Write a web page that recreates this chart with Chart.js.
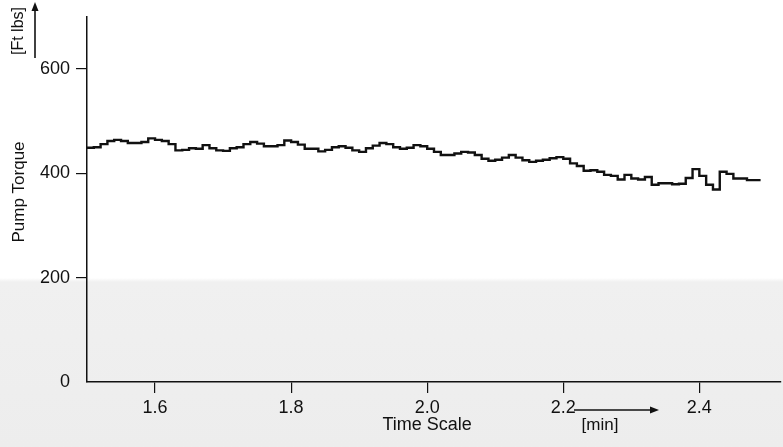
<!DOCTYPE html>
<html>
<head>
<meta charset="utf-8">
<script src="https://cdn.jsdelivr.net/npm/chart.js@4.4.1/dist/chart.umd.min.js"></script>
<style>
    html, body { margin: 0; padding: 0; }
    body {
        width: 783px; height: 447px; overflow: hidden;
        background: linear-gradient(to bottom, #ffffff 0px, #ffffff 278px, #f0f0f0 282px, #ededed 447px);
    }
    #wrap { position: relative; width: 783px; height: 447px; }
</style>
</head>
<body>
<div id="wrap"><canvas id="torqueChart" width="783" height="447"></canvas></div>
<script>
// time in minutes, one step every 0.01 min
const times = [
    1.50, 1.51, 1.52, 1.53, 1.54, 1.55, 1.56, 1.57, 1.58, 1.59,
    1.60, 1.61, 1.62, 1.63, 1.64, 1.65, 1.66, 1.67, 1.68, 1.69,
    1.70, 1.71, 1.72, 1.73, 1.74, 1.75, 1.76, 1.77, 1.78, 1.79,
    1.80, 1.81, 1.82, 1.83, 1.84, 1.85, 1.86, 1.87, 1.88, 1.89,
    1.90, 1.91, 1.92, 1.93, 1.94, 1.95, 1.96, 1.97, 1.98, 1.99,
    2.00, 2.01, 2.02, 2.03, 2.04, 2.05, 2.06, 2.07, 2.08, 2.09,
    2.10, 2.11, 2.12, 2.13, 2.14, 2.15, 2.16, 2.17, 2.18, 2.19,
    2.20, 2.21, 2.22, 2.23, 2.24, 2.25, 2.26, 2.27, 2.28, 2.29,
    2.30, 2.31, 2.32, 2.33, 2.34, 2.35, 2.36, 2.37, 2.38, 2.39,
    2.40, 2.41, 2.42, 2.43, 2.44, 2.45, 2.46, 2.47, 2.48, 2.49
];

// pump torque in ft lbs
const torque = [
    449, 449, 450, 456, 462, 464, 462, 458, 458, 460,
    467, 464, 462, 456, 444, 445, 448, 447, 454, 448,
    444, 443, 448, 450, 456, 460, 457, 452, 452, 454,
    463, 460, 455, 447, 447, 442, 445, 450, 452, 449,
    444, 441, 448, 453, 458, 456, 450, 447, 449, 454,
    452, 447, 441, 435, 435, 438, 441, 440, 435, 428,
    424, 426, 430, 435, 430, 425, 422, 424, 426, 429,
    431, 428, 419, 414, 405, 406, 403, 397, 395, 388,
    397, 390, 388, 393, 378, 381, 381, 379, 380, 391,
    408, 395, 378, 369, 403, 399, 390, 390, 387, 387
];

const xTicks = [1.6, 1.8, 2.0, 2.2, 2.4];
const yTicks = [0, 200, 400, 600];

const ink = '#111111';
const fontName = '"Liberation Sans", Arial, sans-serif';
const tickFont = { family: fontName, size: 18 };

const arrow = (ctx, x1, y1, x2, y2) => {
    const a = Math.atan2(y2 - y1, x2 - x1);
    ctx.beginPath();
    ctx.moveTo(x1, y1);
    ctx.lineTo(x2 - 6 * Math.cos(a), y2 - 6 * Math.sin(a));
    ctx.stroke();
    ctx.beginPath();
    ctx.moveTo(x2, y2);
    ctx.lineTo(x2 - 9 * Math.cos(a) + 3.5 * Math.sin(a), y2 - 9 * Math.sin(a) - 3.5 * Math.cos(a));
    ctx.lineTo(x2 - 9 * Math.cos(a) - 3.5 * Math.sin(a), y2 - 9 * Math.sin(a) + 3.5 * Math.cos(a));
    ctx.closePath();
    ctx.fill();
};

// axis titles and unit arrows
const axisText = {
    id: 'axisText',
    afterDraw(chart) {
        const ctx = chart.ctx;
        const xs = chart.scales.x;
        ctx.save();
        ctx.fillStyle = ink;
        ctx.strokeStyle = ink;
        ctx.lineWidth = 1.6;
        ctx.textAlign = 'center';
        ctx.textBaseline = 'middle';

        ctx.save();
        ctx.translate(19, 192);
        ctx.rotate(-Math.PI / 2);
        ctx.font = '17px ' + fontName;
        ctx.fillText('Pump Torque', 0, 0);
        ctx.restore();

        ctx.save();
        ctx.translate(19, 31);
        ctx.rotate(-Math.PI / 2);
        ctx.font = '16px ' + fontName;
        ctx.fillText('[Ft lbs]', 0, 0);
        ctx.restore();
        arrow(ctx, 35, 58, 35, 2);

        ctx.font = '18px ' + fontName;
        ctx.fillText('Time Scale', xs.getPixelForValue(2.0), 425);
        ctx.font = '17px ' + fontName;
        ctx.fillText('[min]', 600, 425);
        arrow(ctx, 574, 410, 659, 410);
        ctx.restore();
    }
};

new Chart(document.getElementById('torqueChart'), {
    type: 'line',
    data: {
        datasets: [{
            label: 'Pump Torque',
            data: times.map((t, i) => ({ x: t, y: torque[i] })),
            stepped: 'after',
            borderColor: ink,
            borderWidth: 2.4,
            pointRadius: 0,
            fill: false
        }]
    },
    options: {
        responsive: false,
        animation: false,
        layout: { padding: { top: 0, right: 2, bottom: 0, left: 0 } },
        plugins: {
            legend: { display: false },
            tooltip: { enabled: false }
        },
        scales: {
            x: {
                type: 'linear',
                min: 1.5,
                max: 2.52,
                afterBuildTicks: scale => { scale.ticks = xTicks.map(v => ({ value: v })); },
                afterFit: scale => { scale.height = 65; },
                border: { color: ink, width: 1.5 },
                grid: { drawOnChartArea: false, tickLength: 11, color: ink, lineWidth: 1.2 },
                ticks: {
                    color: ink,
                    font: tickFont,
                    padding: 4,
                    maxRotation: 0,
                    callback: v => v.toFixed(1)
                }
            },
            y: {
                min: 0,
                max: 700,
                afterBuildTicks: scale => { scale.ticks = yTicks.map(v => ({ value: v })); },
                afterFit: scale => { scale.width = 87; },
                border: { color: ink, width: 1.5 },
                grid: {
                    drawOnChartArea: false,
                    tickLength: 11,
                    lineWidth: 1.2,
                    color: c => (c.tick && c.tick.value === 0 ? 'rgba(0,0,0,0)' : ink)
                },
                ticks: { color: ink, font: tickFont, padding: 6 }
            }
        }
    },
    plugins: [axisText]
});
</script>
</body>
</html>
